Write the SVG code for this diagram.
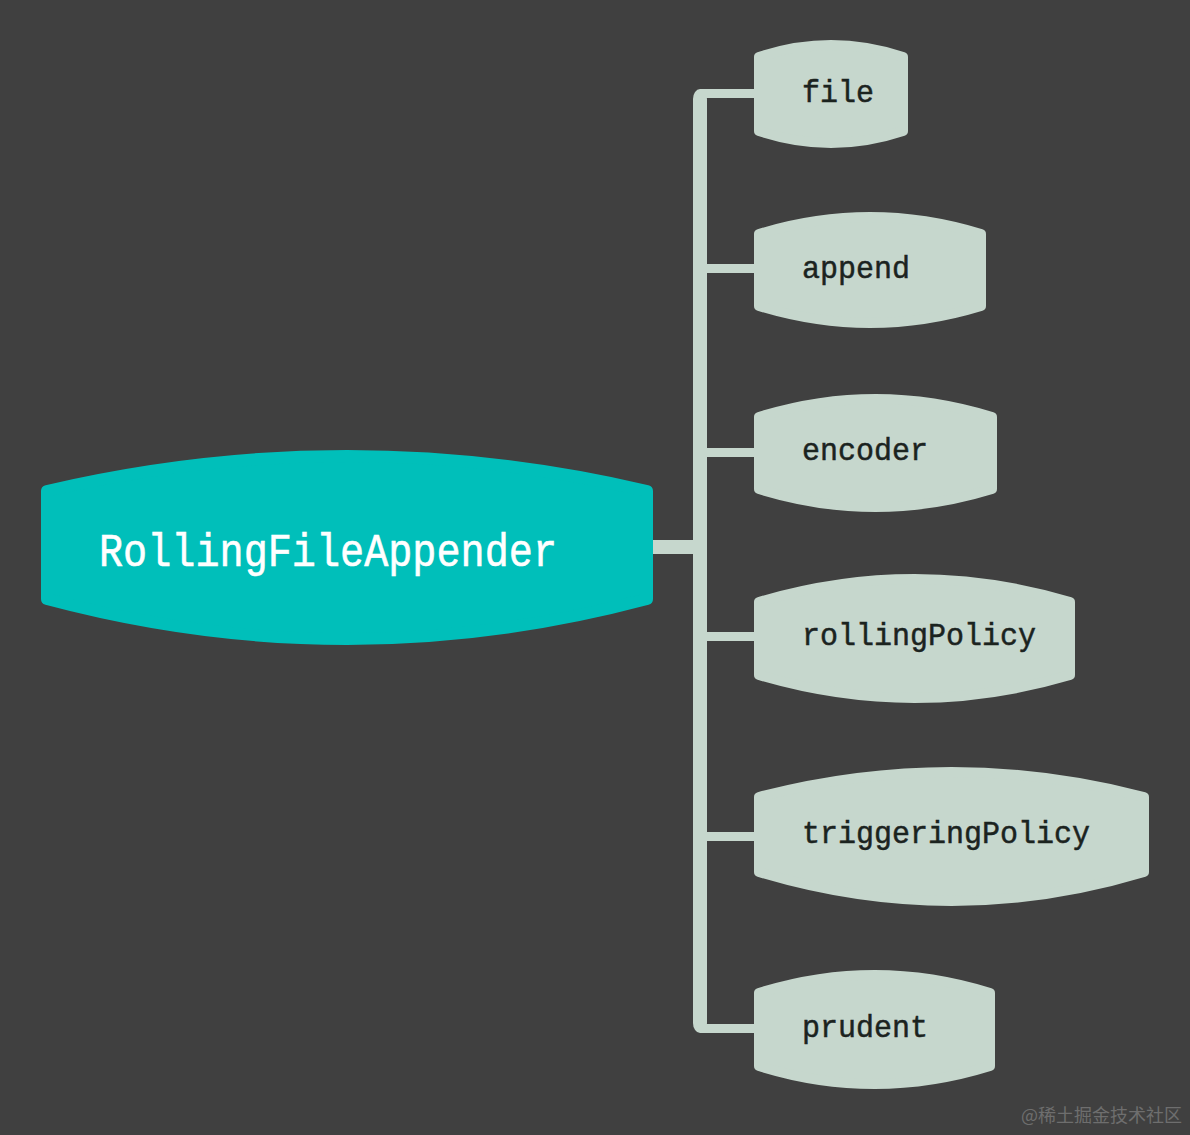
<svg xmlns="http://www.w3.org/2000/svg" width="1190" height="1135" viewBox="0 0 1190 1135">
  <style>
    .child path { fill: #c6d7cd; stroke: #c6d7cd; stroke-width: 10; stroke-linejoin: round; }
    .child text { font-family: "Liberation Mono", "DejaVu Sans Mono", monospace; font-size: 32px; fill: #1b231f; stroke: #1b231f; stroke-width: 0.5; }
    .root path { fill: #00bfba; stroke: #00bfba; stroke-width: 12; stroke-linejoin: round; }
    .root text { font-family: "Liberation Mono", "DejaVu Sans Mono", monospace; font-size: 47px; fill: #ffffff; stroke: #ffffff; stroke-width: 0.6; }
    .conn rect { fill: #c6d7cd; }
  </style>
  <rect width="1190" height="1135" fill="#404040"/>
  <g id="connectors" class="conn">
    <rect x="650" y="540" width="52" height="14"/>
    <rect x="693" y="89" width="14" height="944" rx="10"/>
    <rect x="700" y="89" width="58" height="9"/>
    <rect x="700" y="264" width="58" height="9"/>
    <rect x="700" y="448" width="58" height="9"/>
    <rect x="700" y="632" width="58" height="9"/>
    <rect x="700" y="832" width="58" height="9"/>
    <rect x="700" y="1024" width="58" height="9"/>
  </g>
  <g id="root" class="root">
    <path d="M47 491 Q347 421 647 491 L647 599 Q347 679 47 599 Z"/>
    <text x="99" y="566" textLength="458" lengthAdjust="spacingAndGlyphs">RollingFileAppender</text>
  </g>
  <g id="node-file" class="child">
    <path d="M759 57 Q831 33 903 57 L903 131 Q831 155 759 131 Z"/>
    <text x="802" y="102" textLength="72" lengthAdjust="spacingAndGlyphs">file</text>
  </g>
  <g id="node-append" class="child">
    <path d="M759 234 Q870 200 981 234 L981 306 Q870 340 759 306 Z"/>
    <text x="802" y="278" textLength="108" lengthAdjust="spacingAndGlyphs">append</text>
  </g>
  <g id="node-encoder" class="child">
    <path d="M759 417 Q875.5 381 992 417 L992 489 Q875.5 525 759 489 Z"/>
    <text x="802" y="460" textLength="126" lengthAdjust="spacingAndGlyphs">encoder</text>
  </g>
  <g id="node-rollingPolicy" class="child">
    <path d="M759 602 Q914.5 556 1070 602 L1070 675 Q914.5 721 759 675 Z"/>
    <text x="802" y="645" textLength="234" lengthAdjust="spacingAndGlyphs">rollingPolicy</text>
  </g>
  <g id="node-triggeringPolicy" class="child">
    <path d="M759 797 Q951.5 747 1144 797 L1144 872 Q951.5 930 759 872 Z"/>
    <text x="802" y="843" textLength="288" lengthAdjust="spacingAndGlyphs">triggeringPolicy</text>
  </g>
  <g id="node-prudent" class="child">
    <path d="M759 993 Q874.5 957 990 993 L990 1066 Q874.5 1102 759 1066 Z"/>
    <text x="802" y="1037" textLength="126" lengthAdjust="spacingAndGlyphs">prudent</text>
  </g>
  <text x="1021" y="1122" font-family="'Noto Sans CJK SC', sans-serif" font-size="18" fill="#6e6e6e">@稀土掘金技术社区</text>
</svg>
